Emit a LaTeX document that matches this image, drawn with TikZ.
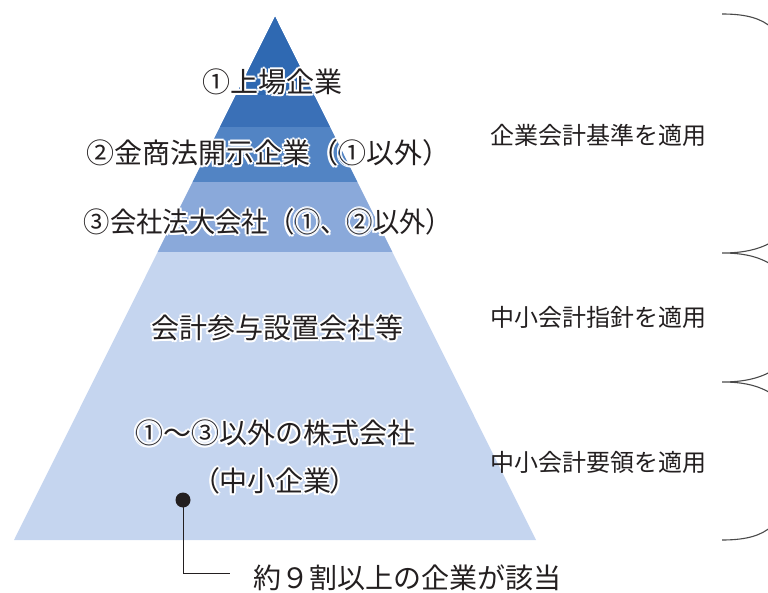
\documentclass[tikz,border=0pt]{standalone}
\usepackage{fontspec}
\setmainfont{Noto Sans CJK JP}
\newfontfamily\jpp[RawFeature=+palt]{Noto Sans CJK JP}
\usetikzlibrary{calc}
\definecolor{bandA}{HTML}{2F69B2}
\definecolor{bandB}{HTML}{3A70B7}
\definecolor{bandC}{HTML}{5284C4}
\definecolor{bandD}{HTML}{8AA9DA}
\definecolor{bandE}{HTML}{C5D5EF}
\definecolor{ink}{HTML}{231F20}
\definecolor{bracecol}{HTML}{4A4A4A}
\tikzset{
  lvl/.style={font=\fontsize{28}{30}\selectfont, text=ink, inner sep=0pt, anchor=center},
  lvlhalo/.style={lvl, text=white},
  side/.style={font=\fontsize{24}{26}\selectfont, text=ink, inner sep=0pt, anchor=west},
  brace/.style={draw=bracecol, line width=1.1pt},
  lead/.style={draw=ink, line width=0.9pt},
  dotmark/.style={circle, fill=ink, minimum size=15pt, inner sep=0pt}
}
% label with a white outline: white copies around, then the named label on top
\newcommand\halolabel[3]{%
  \foreach \ang in {0,45,...,315}{%
    \node[lvlhalo] at ($(#2)+(\ang:2)$) {#3};}
  \node[lvl] (#1) at (#2) {#3};}
\begin{document}
\begin{tikzpicture}[x=1pt,y=-1pt]
\useasboundingbox (0,0) rectangle (768,593);
\clip (0,0) rectangle (768,593);
% pyramid
\coordinate (apex) at (275,17);
\coordinate (bl) at (14,540);
\coordinate (br) at (536,540);
\begin{scope}
  \clip (apex) -- (bl) -- (br) -- cycle;
  \fill[bandE] (0,0) rectangle (768,541);
  \fill[bandD] (0,0) rectangle (768,252);
  \fill[bandC] (0,0) rectangle (768,182);
  \fill[bandB] (0,0) rectangle (768,127);
  \fill[bandA] (0,0) rectangle (768,95);
\end{scope}
% pyramid labels
\halolabel{l1}{272,82}{①上場企業}
\halolabel{l2}{268,153}{②金商法開示企業（①以外）}
\halolabel{l3}{268,222}{\scalebox{0.94}[1]{③会社法大会社（①、②以外）}}
\halolabel{l4}{277,328}{会計参与設置会社等}
\halolabel{l5}{275,433}{①～③以外の株式会社}
\halolabel{l6}{275,481}{\jpp（中小企業）}
% side labels
\node[side] (s1) at (490,135) {企業会計基準を適用};
\node[side] (s2) at (490,317) {中小会計指針を適用};
\node[side] (s3) at (490,462) {中小会計要領を適用};
% braces (right halves of stacked parentheses)
\draw[brace] (722,14) .. controls (748,14) and (762,19) .. (772,28);
\draw[brace] (772,242) .. controls (758,250) and (742,253) .. (722,253)
             .. controls (742,253) and (758,256) .. (772,265);
\draw[brace] (772,371) .. controls (758,379) and (742,382) .. (722,382)
             .. controls (742,382) and (758,385) .. (772,394);
\draw[brace] (722,540) .. controls (748,540) and (762,535) .. (772,526);
% callout
\node[dotmark] (dot) at (183,500) {};
\node[font=\fontsize{28}{30}\selectfont, text=ink, inner sep=0pt, anchor=west] (note) at (253,578) {約９割以上の企業が該当};
\coordinate (leadend) at (230,573);
\draw[lead] (dot.center) |- (leadend);
\end{tikzpicture}
\end{document}
